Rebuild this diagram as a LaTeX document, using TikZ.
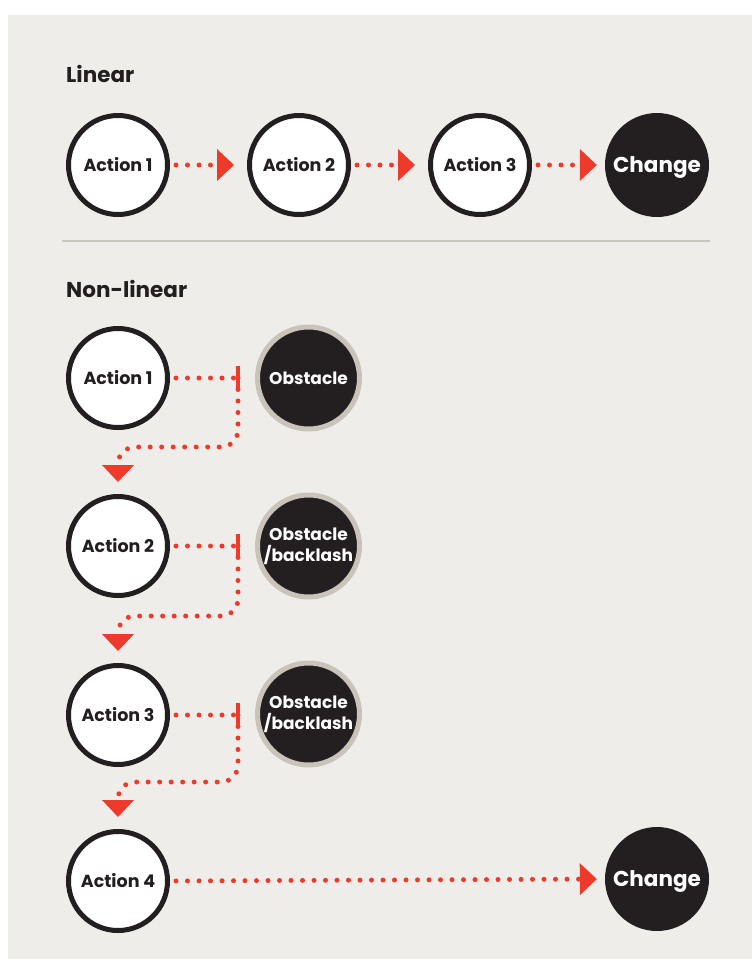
\documentclass[tikz,border=0pt]{standalone}
\usepackage{fontspec}
\setmainfont{Poppins}
\usetikzlibrary{arrows.meta}
\definecolor{bg}{HTML}{EFEDE9}
\definecolor{ink}{HTML}{231F20}
\definecolor{ring}{HTML}{C9C3B9}
\definecolor{flowred}{HTML}{EE3A2B}
\definecolor{rule}{HTML}{C9C6BF}
\begin{document}
\begin{tikzpicture}[x=1pt,y=-1pt,
  action/.style={circle, draw=ink, fill=white, line width=5pt, minimum size=99pt,
    inner sep=0pt, text=ink, font=\fontsize{17.5}{20}\selectfont\bfseries},
  change/.style={circle, fill=ink, minimum size=104pt, inner sep=0pt, text=white,
    text depth=0pt, font=\fontsize{21.5}{24}\selectfont\bfseries},
  obstacle/.style={circle, draw=ring, fill=ink, line width=5pt, minimum size=102pt,
    inner sep=0pt, text=white, align=center, font=\fontsize{17}{21}\selectfont\bfseries},
  heading/.style={anchor=base west, inner sep=0pt, text=ink,
    font=\fontsize{21.5}{24}\selectfont\bfseries},
  flow/.style={draw=flowred, line width=5pt, line cap=round,
    dash pattern=on 0pt off 11.5pt},
  arrowed/.style={flow, -{Triangle[length=17pt,width=32pt,line width=0pt]}},
  barline/.style={draw=flowred, line width=4.5pt, line cap=butt}
]
\useasboundingbox (0,0) rectangle (752,959);
\fill[bg] (8,15) rectangle (752,959);

% linear sequence
\node[heading] (hlin) at (66,82) {Linear};
\node[action] (a1) at (118,165) {Action 1};
\node[action] (a2) at (299,165) {Action 2};
\node[action] (a3) at (480,165) {Action 3};
\node[change] (ch1) at (657,165) {Change};
\draw[arrowed, shorten <=6pt, shorten >=13pt] (a1.east) -- (a2.west);
\draw[arrowed, shorten <=6pt, shorten >=13pt] (a2.east) -- (a3.west);
\draw[arrowed, shorten <=6pt, shorten >=8pt] (a3.east) -- (ch1.west);

% separator
\draw[rule, line width=1.2pt] (62,241) -- (710,241);

% non-linear sequence
\node[heading] (hnon) at (66,297) {Non-linear};
\node[action] (n1) at (118,378) {Action 1};
\node[action] (n2) at (118,546) {Action 2};
\node[action] (n3) at (118,715) {Action 3};
\node[action] (n4) at (118,881) {Action 4};
\node[obstacle] (o1) at (308.5,378) {Obstacle};
\node[obstacle] (o2) at (308.5,546) {Obstacle\\/backlash};
\node[obstacle] (o3) at (308.5,714) {Obstacle\\/backlash};
\node[change] (ch2) at (657,879) {Change};

% blocking points, detour corners and arrow ends
\coordinate (b1) at (238,378);
\coordinate (b2) at (238,546);
\coordinate (b3) at (238,715);
\coordinate (k1) at ([yshift=47pt]n2.north);
\coordinate (k2) at ([yshift=47pt]n3.north);
\coordinate (k3) at ([yshift=47pt]n4.north);
\coordinate (t1) at ([yshift=12pt]n2.north);
\coordinate (t2) at ([yshift=12pt]n3.north);
\coordinate (t3) at ([yshift=12pt]n4.north);

\draw[flow, shorten <=6pt] (n1.east) -- (b1);
\draw[flow, shorten <=6pt] (n2.east) -- (b2);
\draw[flow, shorten <=6pt] (n3.east) -- (b3);

\draw[arrowed, rounded corners=17pt] (b1) |- (k1) -- (t1);
\draw[arrowed, rounded corners=17pt] (b2) |- (k2) -- (t2);
\draw[arrowed, rounded corners=17pt] (b3) |- (k3) -- (t3);

\draw[barline] ([yshift=12.5pt]b1) -- ([yshift=-13pt]b1);
\draw[barline] ([yshift=12.5pt]b2) -- ([yshift=-13pt]b2);
\draw[barline] ([yshift=12.5pt]b3) -- ([yshift=-13pt]b3);

\draw[arrowed, shorten <=6pt, shorten >=8pt] (n4.east) -- (ch2.west);
\end{tikzpicture}
\end{document}
